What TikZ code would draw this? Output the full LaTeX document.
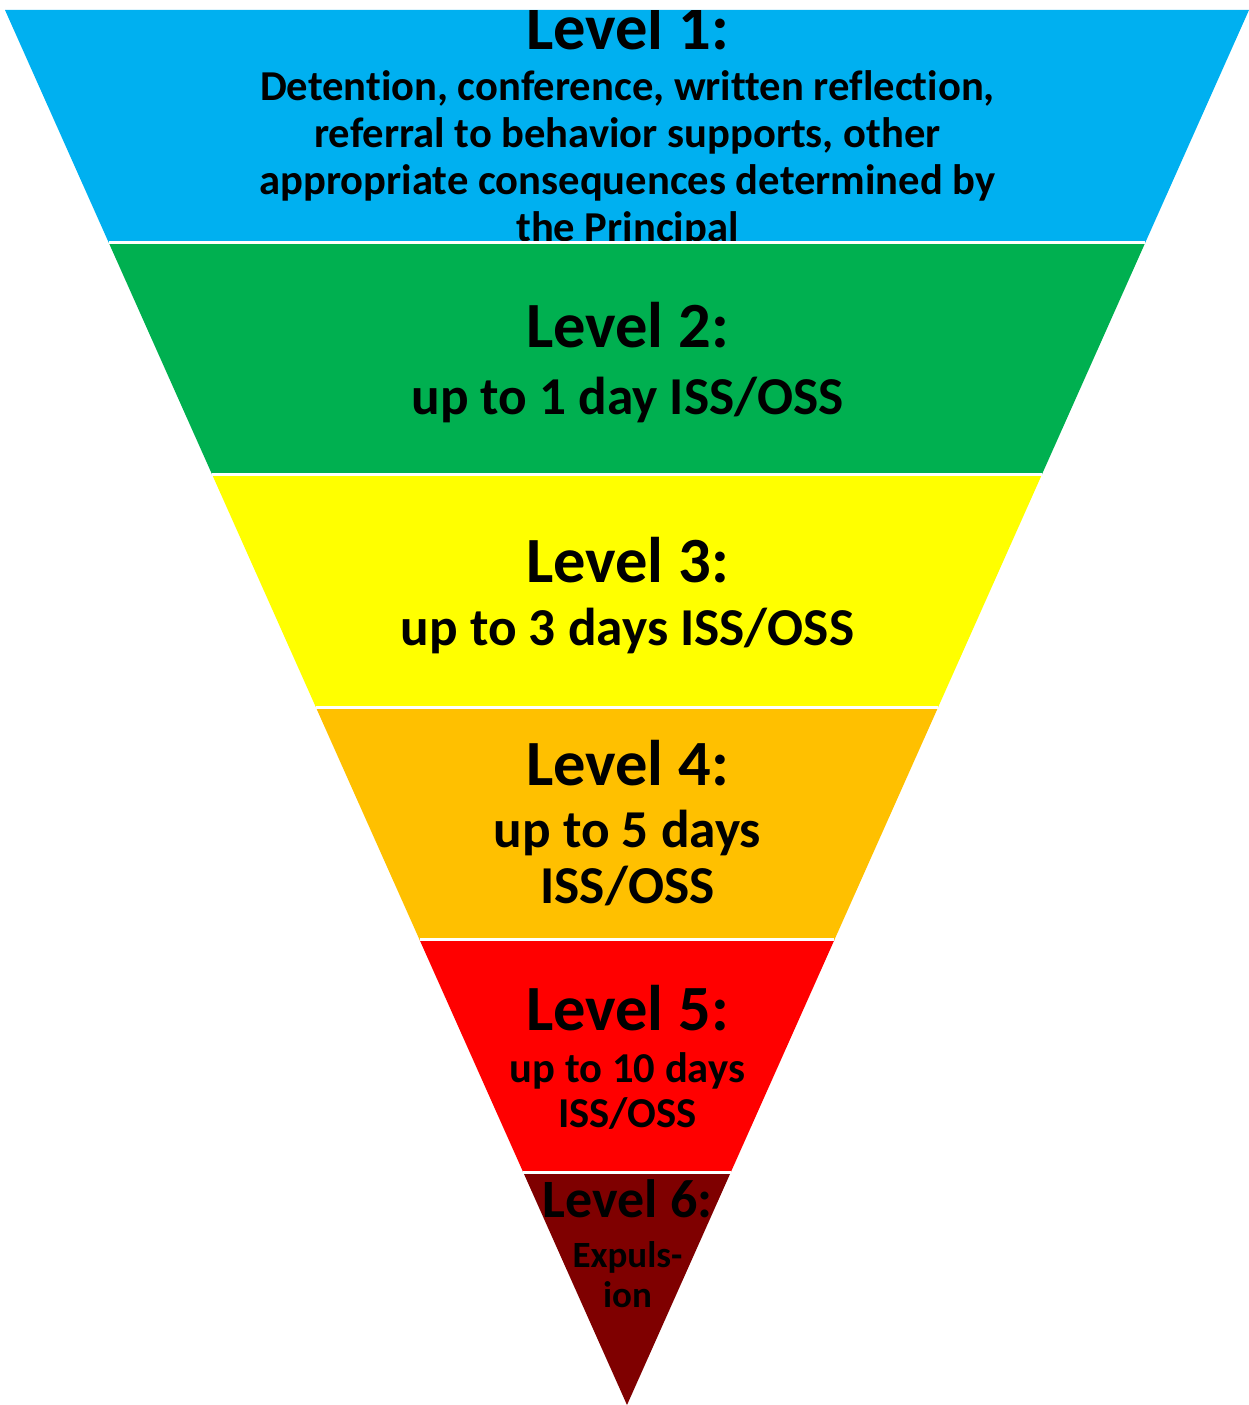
\documentclass[tikz,border=0pt]{standalone}
\usepackage{fontspec}
\setmainfont{Carlito}[Ligatures={NoCommon}]
\usetikzlibrary{calc}
\definecolor{cBlue}{HTML}{00B0F0}
\definecolor{cGreen}{HTML}{00B050}
\definecolor{cYellow}{HTML}{FFFF00}
\definecolor{cOrange}{HTML}{FFC000}
\definecolor{cRed}{HTML}{FF0000}
\definecolor{cDark}{HTML}{7F0000}
\tikzset{
  txt/.style={anchor=base, inner sep=0pt, text=black},
  big/.style={txt, font=\fontsize{64.5}{64.5}\selectfont\bfseries},
  mid/.style={txt, font=\fontsize{53.3}{53.3}\selectfont\bfseries},
  small/.style={txt, font=\fontsize{42.6}{42.6}\selectfont\bfseries},
  tiny/.style={txt, font=\fontsize{37}{37}\selectfont\bfseries},
  six/.style={txt, font=\fontsize{54}{54}\selectfont\bfseries},
  sep/.style={draw=white, line width=3pt},
}
\begin{document}
\begin{tikzpicture}[x=1pt,y=-1pt]
\useasboundingbox (0,0) rectangle (1249,1405);
\coordinate (TL) at (5,10);
\coordinate (TR) at (1249,10);
\coordinate (A) at (627,1405);
\foreach \i in {1,...,5} {
  \coordinate (L\i) at ($(TL)!\i/6!(A)$);
  \coordinate (R\i) at ($(TR)!\i/6!(A)$);
}
% bands
\fill[cBlue]   (TL) -- (TR) -- (R1) -- (L1) -- cycle;
\fill[cGreen]  (L1) -- (R1) -- (R2) -- (L2) -- cycle;
\fill[cYellow] (L2) -- (R2) -- (R3) -- (L3) -- cycle;
\fill[cOrange] (L3) -- (R3) -- (R4) -- (L4) -- cycle;
\fill[cRed]    (L4) -- (R4) -- (R5) -- (L5) -- cycle;
\fill[cDark]   (L5) -- (R5) -- (A) -- cycle;
% level 1 text, clipped to its band
\begin{scope}
  \clip (TL) -- (TR) -- (R1) -- (L1) -- cycle;
  \node[big]   (t1)  at (627.5,50)  {Level 1:};
  \node[small] (t1a) at (627.5,100) {Detention, conference, written reflection,};
  \node[small] (t1b) at (627.5,147) {referral to behavior supports, other};
  \node[small] (t1c) at (627.5,194) {appropriate consequences determined by};
  \node[small] (t1d) at (627.5,241) {the Principal};
\end{scope}
\node[big] (t2)  at (627.5,347) {Level 2:};
\node[mid] (t2a) at (627.5,414) {up to 1 day ISS/OSS};
\node[big] (t3)  at (627.5,582) {Level 3:};
\node[mid] (t3a) at (627.5,645) {up to 3 days ISS/OSS};
\node[big] (t4)  at (627.5,785) {Level 4:};
\node[mid] (t4a) at (627.5,847) {up to 5 days};
\node[mid] (t4b) at (627.5,903) {ISS/OSS};
\node[big]   (t5)  at (627.5,1030) {Level 5:};
\node[small] (t5a) at (627.5,1082) {up to 10 days};
\node[small] (t5b) at (627.5,1127) {ISS/OSS};
\node[six]  (t6)  at (627.5,1217) {Level 6:};
\node[tiny] (t6a) at (627.5,1267) {Expuls-};
\node[tiny] (t6b) at (627.5,1307) {ion};
% white separators
\foreach \i in {1,...,5} { \draw[sep] (L\i) -- (R\i); }
\end{tikzpicture}
\end{document}
